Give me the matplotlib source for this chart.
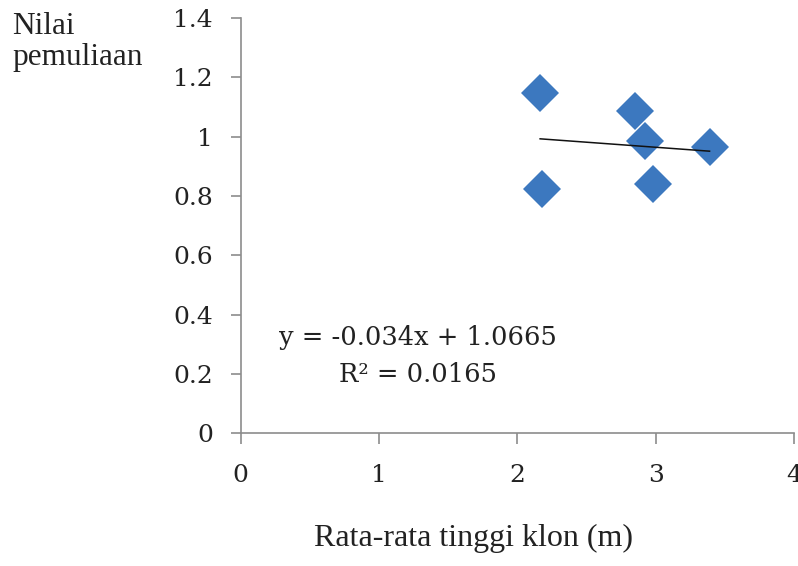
import matplotlib.pyplot as plt
import numpy as np

# data
tinggi = [2.165, 2.18, 2.85, 2.92, 2.98, 3.39]
nilai = [1.146, 0.825, 1.085, 0.985, 0.839, 0.964]
slope = -0.034
intercept = 1.0665
r2 = 0.0165

x_ticks = [0, 1, 2, 3, 4]
y_ticks = [0, 0.2, 0.4, 0.6, 0.8, 1.0, 1.2, 1.4]
y_labels = ["0", "0.2", "0.4", "0.6", "0.8", "1", "1.2", "1.4"]

plt.rcParams['font.family'] = ['Liberation Serif', 'DejaVu Serif']
num_font = 'DejaVu Serif'

fig = plt.figure(figsize=(7.98, 5.66), dpi=100)
ax = fig.add_axes([0.3016, 0.2341, 0.6933, 0.7341])

ax.plot(tinggi, nilai, linestyle='none', marker='D', markersize=19,
        color='#3c78bf', markeredgewidth=0, zorder=2)

# linear trendline over the data range
xl = np.array([min(tinggi), max(tinggi)])
ax.plot(xl, slope * xl + intercept, color='#111111', linewidth=1.1, zorder=3)

ax.set_xlim(0, 4)
ax.set_ylim(0, 1.4)
ax.set_xticks(x_ticks)
ax.set_yticks(y_ticks)
ax.set_yticklabels(y_labels)

for s in ['top', 'right']:
    ax.spines[s].set_visible(False)
for s in ['left', 'bottom']:
    ax.spines[s].set_color('#8c8c8c')
    ax.spines[s].set_linewidth(1.2)

ax.tick_params(axis='y', direction='out', length=7, width=1.2, color='#8c8c8c',
               pad=13, labelsize=18, labelcolor='#222222')
ax.tick_params(axis='x', direction='out', length=8, width=1.2, color='#8c8c8c',
               pad=14, labelsize=18, labelcolor='#222222')
for lab in ax.get_xticklabels() + ax.get_yticklabels():
    lab.set_fontfamily(num_font)
    lab.set_fontweight('light')

ax.text(0.321, 0.232, f"y = {slope}x + {intercept}", transform=ax.transAxes,
        ha='center', va='center', fontsize=18.5, color='#222222',
        family=num_font)
ax.text(0.321, 0.141, f"R² = {r2}", transform=ax.transAxes,
        ha='center', va='center', fontsize=18.5, color='#222222',
        family=num_font)

fig.text(12 / 798, 1 - 12 / 566, "Nilai\npemuliaan", ha='left', va='top',
         fontsize=22.5, linespacing=1.1, color='#222222')
fig.text(473 / 798, 1 - 538 / 566, "Rata-rata tinggi klon (m)", ha='center',
         va='center', fontsize=23, color='#222222')

fig.savefig("out.png", dpi=100)
